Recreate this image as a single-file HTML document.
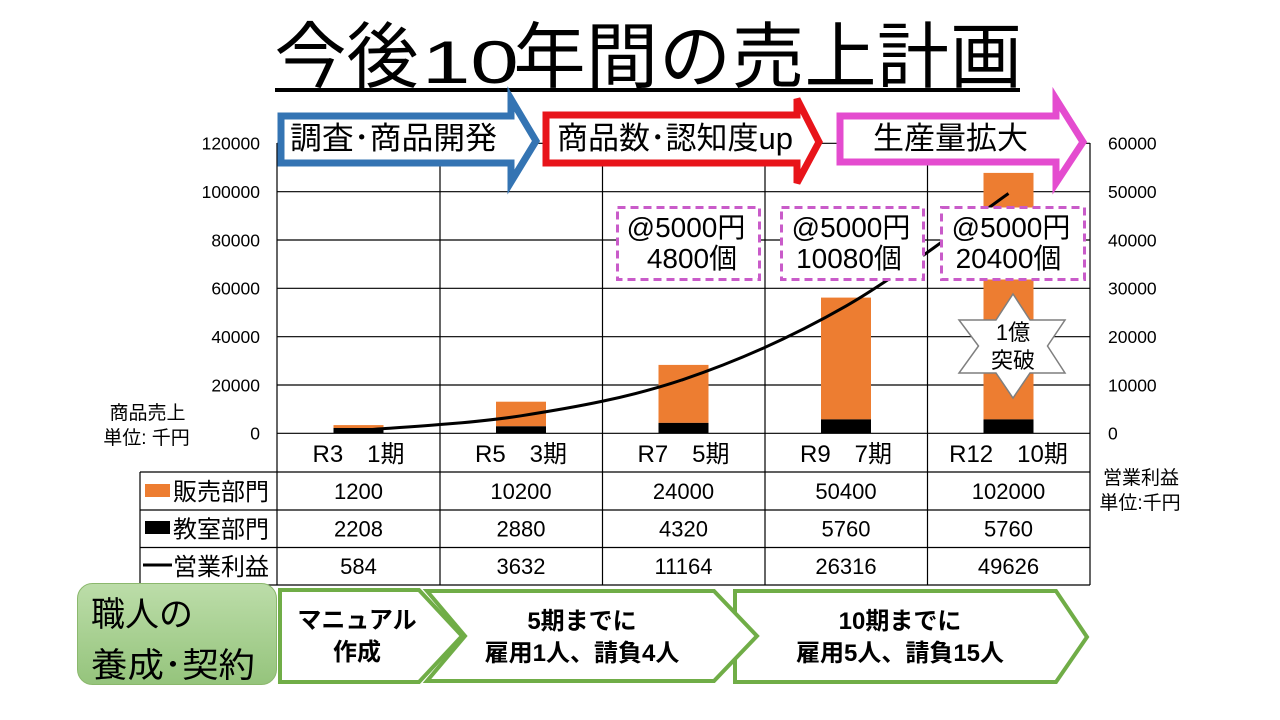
<!DOCTYPE html>
<html><head><meta charset="utf-8">
<style>
html,body{margin:0;padding:0;background:#fff;}
svg{display:block;}
text{font-family:"Liberation Sans","Noto Sans CJK JP",sans-serif;fill:#000;}
</style></head>
<body>
<svg width="1280" height="720" viewBox="0 0 1280 720" xmlns="http://www.w3.org/2000/svg">
<defs>
<linearGradient id="gg" x1="0" y1="0" x2="0" y2="1">
<stop offset="0" stop-color="#BCDDA9"/>
<stop offset="1" stop-color="#95C47C"/>
</linearGradient>
</defs>
<rect width="1280" height="720" fill="#fff"/>

<!-- Title -->
<text font-size="72" y="82" x="274.5 346.5">今後</text>
<text font-size="60" transform="translate(422,83) scale(1.45,1)">10</text>
<text font-size="72" y="82" x="513.5 586 659 732 804.5 877 950">年間の売上計画</text>
<rect x="275" y="88" width="745" height="4" fill="#000"/>

<!-- gridlines -->
<g stroke="#000" stroke-width="1.2" fill="none">
<line x1="277" y1="143.3" x2="1090" y2="143.3"/>
<line x1="277" y1="191.7" x2="1090" y2="191.7"/>
<line x1="277" y1="240" x2="1090" y2="240"/>
<line x1="277" y1="288.3" x2="1090" y2="288.3"/>
<line x1="277" y1="336.7" x2="1090" y2="336.7"/>
<line x1="277" y1="385" x2="1090" y2="385"/>
<line x1="277" y1="433.3" x2="1090" y2="433.3"/>
<line x1="277" y1="143" x2="277" y2="585"/>
<line x1="440" y1="143" x2="440" y2="585"/>
<line x1="602.5" y1="143" x2="602.5" y2="585"/>
<line x1="765" y1="143" x2="765" y2="585"/>
<line x1="927.5" y1="143" x2="927.5" y2="585"/>
<line x1="1090" y1="143" x2="1090" y2="585"/>
<line x1="140" y1="472" x2="1090" y2="472"/>
<line x1="140" y1="510" x2="1090" y2="510"/>
<line x1="140" y1="547.5" x2="1090" y2="547.5"/>
<line x1="140" y1="585" x2="1090" y2="585"/>
<line x1="140" y1="472" x2="140" y2="585"/>
</g>

<!-- bars -->
<g>
<rect x="333.5" y="425.1" width="50" height="2.9" fill="#ED7D31"/>
<rect x="333.5" y="428" width="50" height="5.3" fill="#000"/>
<rect x="496" y="401.7" width="50" height="24.6" fill="#ED7D31"/>
<rect x="496" y="426.3" width="50" height="7" fill="#000"/>
<rect x="658.5" y="364.9" width="50" height="58" fill="#ED7D31"/>
<rect x="658.5" y="422.9" width="50" height="10.4" fill="#000"/>
<rect x="821" y="297.6" width="50" height="121.8" fill="#ED7D31"/>
<rect x="821" y="419.4" width="50" height="13.9" fill="#000"/>
<rect x="983.5" y="172.9" width="50" height="246.5" fill="#ED7D31"/>
<rect x="983.5" y="419.4" width="50" height="13.9" fill="#000"/>
</g>

<!-- line -->
<path d="M358.5,430.5 C385.6,428.05 466.8,424.3 521,415.8 C575.2,407.3 629.3,397.7 683.5,379.4 C737.7,361.1 791.8,337.1 846,306.1 C900.2,275.1 981.4,212.3 1008.5,193.5" fill="none" stroke="#000" stroke-width="3"/>

<!-- callouts -->
<g fill="#fff" stroke="#C95BC9" stroke-width="3" stroke-dasharray="8 5">
<rect x="617.5" y="207.5" width="142" height="72"/>
<rect x="781.5" y="207.5" width="142" height="72"/>
<rect x="941.5" y="207.5" width="143" height="72"/>
</g>
<g font-size="28" text-anchor="middle">
<text x="686" y="237">@5000円</text>
<text x="692" y="268">4800個</text>
<text x="851" y="237">@5000円</text>
<text x="849" y="268">10080個</text>
<text x="1011" y="237">@5000円</text>
<text x="1008.5" y="268">20400個</text>
</g>

<!-- star -->
<polygon points="1013,294 1030,320 1065,320 1047.5,346 1065,373 1030,373 1013,398 996,373 959,373 978.5,346 959,320 996,320" fill="#fff" stroke="#7F7F7F" stroke-width="1.5"/>
<text x="1013" y="340" font-size="22" text-anchor="middle">1億</text>
<text x="1013" y="368" font-size="22" text-anchor="middle">突破</text>

<!-- top arrows -->
<path d="M281,116 H511 V99 L536,141 L511,182 V163 H281 Z" fill="#fff" stroke="#3474B3" stroke-width="7" stroke-linejoin="miter"/>
<path d="M546,115 H797 V99 L819,142 L797,183 V163 H546 Z" fill="#fff" stroke="#E8141A" stroke-width="7" stroke-linejoin="miter"/>
<path d="M840,116 H1056 V99 L1083,142 L1056,183 V162 H840 Z" fill="#fff" stroke="#E44CCF" stroke-width="7" stroke-linejoin="miter"/>
<g font-size="31">
<text x="290" y="149" textLength="207" lengthAdjust="spacingAndGlyphs">調査･商品開発</text>
<text x="557" y="149" textLength="236" lengthAdjust="spacingAndGlyphs">商品数･認知度up</text>
<text x="873" y="149" textLength="155" lengthAdjust="spacingAndGlyphs">生産量拡大</text>
</g>

<!-- axis tick labels -->
<g font-size="17.5" text-anchor="end">
<text x="260" y="149.6">120000</text>
<text x="260" y="198">100000</text>
<text x="260" y="246.3">80000</text>
<text x="260" y="294.6">60000</text>
<text x="260" y="343">40000</text>
<text x="260" y="391.3">20000</text>
<text x="260" y="439.6">0</text>
</g>
<g font-size="17.5" text-anchor="start">
<text x="1108" y="149.6">60000</text>
<text x="1108" y="198">50000</text>
<text x="1108" y="246.3">40000</text>
<text x="1108" y="294.6">30000</text>
<text x="1108" y="343">20000</text>
<text x="1108" y="391.3">10000</text>
<text x="1108" y="439.6">0</text>
</g>
<g font-size="19" text-anchor="middle">
<text x="147.5" y="419">商品売上</text>
<text x="146.5" y="444">単位: 千円</text>
<text x="1141" y="484">営業利益</text>
<text x="1140" y="509">単位:千円</text>
</g>

<!-- categories -->
<g font-size="24" text-anchor="middle">
<text x="358.5" y="462">R3　1期</text>
<text x="521" y="462">R5　3期</text>
<text x="683.5" y="462">R7　5期</text>
<text x="846" y="462">R9　7期</text>
<text x="1008.5" y="462">R12　10期</text>
</g>

<!-- legend -->
<rect x="145" y="484" width="25" height="13" fill="#ED7D31"/>
<rect x="145" y="521" width="25" height="13" fill="#000"/>
<line x1="143" y1="565" x2="172" y2="565" stroke="#000" stroke-width="3"/>
<g font-size="24">
<text x="173" y="500">販売部門</text>
<text x="173" y="537.5">教室部門</text>
<text x="173" y="575">営業利益</text>
</g>

<!-- data -->
<g font-size="22" text-anchor="middle">
<text x="358.5" y="499">1200</text>
<text x="521" y="499">10200</text>
<text x="683.5" y="499">24000</text>
<text x="846" y="499">50400</text>
<text x="1008.5" y="499">102000</text>
<text x="358.5" y="536.5">2208</text>
<text x="521" y="536.5">2880</text>
<text x="683.5" y="536.5">4320</text>
<text x="846" y="536.5">5760</text>
<text x="1008.5" y="536.5">5760</text>
<text x="358.5" y="574">584</text>
<text x="521" y="574">3632</text>
<text x="683.5" y="574">11164</text>
<text x="846" y="574">26316</text>
<text x="1008.5" y="574">49626</text>
</g>

<!-- bottom -->
<rect x="77.5" y="583.5" width="199" height="101" rx="15" ry="15" fill="url(#gg)" stroke="#8BB86D" stroke-width="1"/>
<text x="91" y="626" font-size="34">職人の</text>
<text x="91" y="677" font-size="34" textLength="164" lengthAdjust="spacingAndGlyphs">養成･契約</text>

<g fill="#fff" stroke="#70AD47" stroke-width="4" stroke-linejoin="miter">
<path d="M735,591 H1056 L1087,637 L1056,682 H735 Z"/>
<path d="M427,591 H714 L757,636 L714,681 H427 L465,636 Z"/>
<path d="M280,590 H419 L462,636 L419,682 H280 Z"/>
</g>
<g font-size="24" font-weight="bold" text-anchor="middle">
<text x="357" y="628">マニュアル</text>
<text x="357" y="660">作成</text>
<text x="582" y="629">5期までに</text>
<text x="582" y="661">雇用1人、請負4人</text>
<text x="900" y="629">10期までに</text>
<text x="900" y="661">雇用5人、請負15人</text>
</g>
</svg>
</body></html>
